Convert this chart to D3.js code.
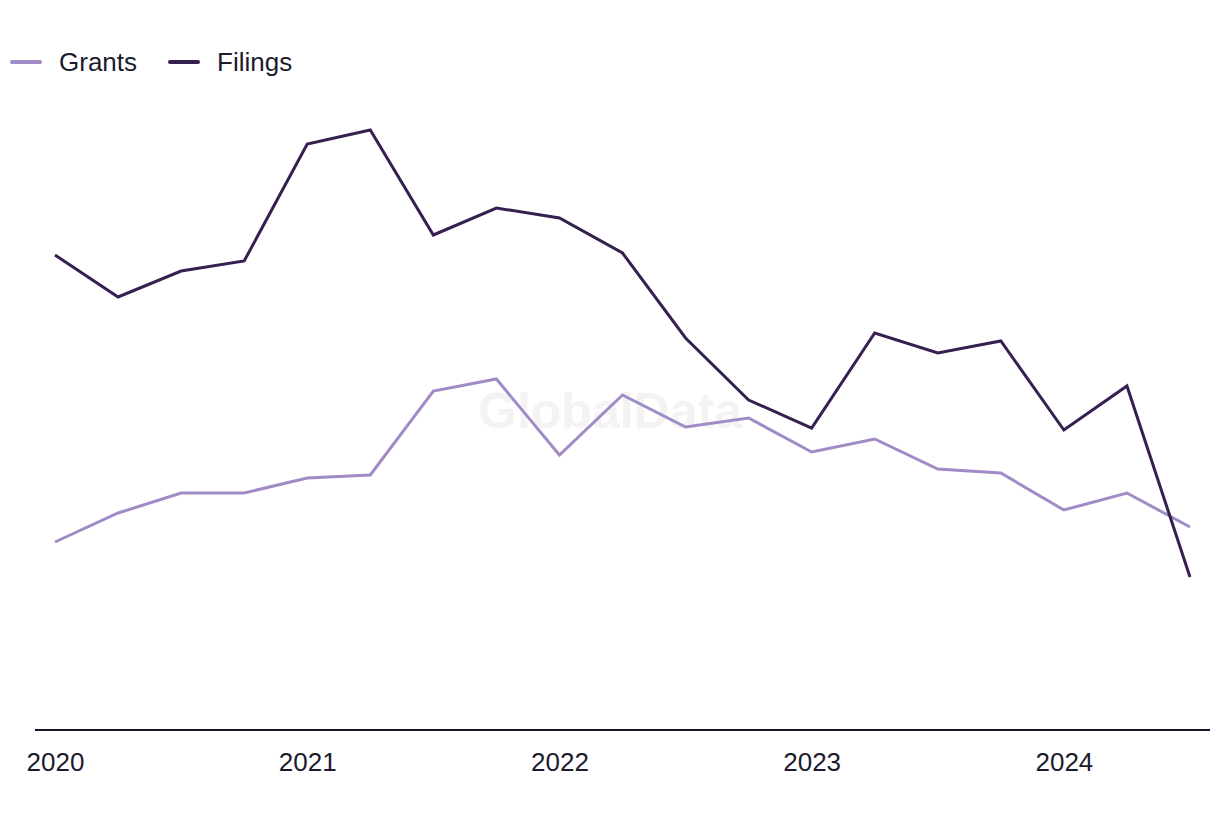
<!DOCTYPE html>
<html>
<head>
<meta charset="utf-8">
<script src="https://cdn.jsdelivr.net/npm/d3@7"></script>
<style>
  html, body { margin: 0; padding: 0; background: #ffffff; }
  svg { display: block; }
</style>
</head>
<body>
<div id="chart"></div>
<script>
// Quarterly periods (year + quarter offset)
const periods = [
  2020.00, 2020.25, 2020.50, 2020.75,
  2021.00, 2021.25, 2021.50, 2021.75,
  2022.00, 2022.25, 2022.50, 2022.75,
  2023.00, 2023.25, 2023.50, 2023.75,
  2024.00, 2024.25, 2024.50
];
const filings = [475, 433, 459, 469, 586, 600, 495, 522, 512, 477, 392, 330, 302, 397, 377, 389, 300, 344, 153];
const grants  = [188, 217, 237, 237, 252, 255, 339, 351, 275, 335, 303, 312, 278, 291, 261, 257, 220, 237, 203];
const tickYears = [2020, 2021, 2022, 2023, 2024];
const seriesNames = ["Grants", "Filings"];
const seriesColors = ["#a08bc7", "#35204f"];

const W = 1220, H = 820;
const svg = d3.select("#chart").append("svg").attr("width", W).attr("height", H);

const x = d3.scaleLinear().domain([2020, 2024.5]).range([55, 1190]);
const y = d3.scaleLinear().domain([0, 700]).range([730, 30]);

// watermark
svg.append("text")
  .attr("x", 610).attr("y", 428)
  .attr("text-anchor", "middle")
  .attr("font-family", "Liberation Sans, Arial, sans-serif")
  .attr("font-weight", "bold")
  .attr("font-size", 50)
  .attr("fill", "#f3f3f3")
  .text("GlobalData");

// axis
const axis = d3.axisBottom(x).tickValues(tickYears).tickFormat(d3.format("d")).tickSize(0).tickPadding(0);
const gx = svg.append("g").attr("transform", `translate(0,${y(0)})`).call(axis);
gx.select(".domain").remove();
gx.selectAll("text")
  .attr("dy", null)
  .attr("y", 41)
  .attr("font-family", "Liberation Sans, Arial, sans-serif")
  .attr("font-size", 26)
  .attr("fill", "#1b1b2d");
gx.append("line")
  .attr("x1", 35).attr("x2", 1210).attr("y1", 0).attr("y2", 0)
  .attr("stroke", "#16162a").attr("stroke-width", 2);

const line = d3.line().x((d, i) => x(periods[i])).y(d => y(d));

[grants, filings].forEach((vals, k) => {
  svg.append("path")
    .datum(vals)
    .attr("d", line)
    .attr("fill", "none")
    .attr("stroke", seriesColors[k])
    .attr("stroke-width", 3)
    .attr("stroke-linejoin", "miter");
});

// legend
const legendX = [10, 168];
seriesNames.forEach((name, k) => {
  const g = svg.append("g").attr("transform", `translate(${legendX[k]},62)`);
  g.append("line").attr("x1", 2).attr("x2", 30).attr("y1", 0).attr("y2", 0)
    .attr("stroke", seriesColors[k]).attr("stroke-width", 4).attr("stroke-linecap", "round");
  g.append("text").attr("x", 49).attr("y", 9)
    .attr("font-family", "Liberation Sans, Arial, sans-serif")
    .attr("font-size", 26)
    .attr("fill", "#1b1b2d")
    .text(name);
});
</script>
</body>
</html>
